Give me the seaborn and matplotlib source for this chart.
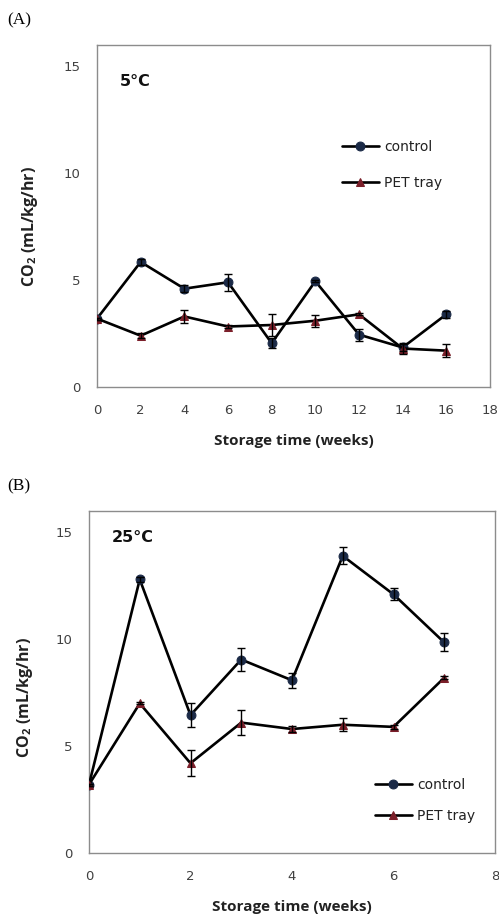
import matplotlib
matplotlib.use("Agg")
import matplotlib.pyplot as plt
import seaborn as sns
import pandas as pd

# ---- data ----
weeks_a = [0, 2, 4, 6, 8, 10, 12, 14, 16]
control_a = [3.2, 5.85, 4.6, 4.9, 2.05, 4.95, 2.45, 1.85, 3.4]
control_a_err = [0.05, 0.12, 0.15, 0.4, 0.23, 0.05, 0.28, 0.15, 0.17]
pet_a = [3.2, 2.4, 3.3, 2.83, 2.9, 3.1, 3.4, 1.8, 1.7]
pet_a_err = [0.05, 0.12, 0.3, 0.08, 0.52, 0.27, 0.05, 0.27, 0.3]

weeks_b = [0, 1, 2, 3, 4, 5, 6, 7]
control_b = [3.2, 12.8, 6.45, 9.05, 8.08, 13.9, 12.1, 9.85]
control_b_err = [0.05, 0.1, 0.55, 0.55, 0.35, 0.4, 0.28, 0.42]
pet_b = [3.2, 7.0, 4.2, 6.1, 5.8, 6.0, 5.9, 8.2]
pet_b_err = [0.05, 0.05, 0.6, 0.57, 0.12, 0.31, 0.1, 0.08]

series_labels = ["control", "PET tray"]
panel_labels = ["(A)", "(B)"]
temp_labels = ["5\u00b0C", "25\u00b0C"]
xlabel = "Storage time (weeks)"
ylabel = r"CO$_{\mathbf{2}}$ (mL/kg/hr)"

sns.set_theme(style="white")
plt.rcParams["font.family"] = ["DejaVu Sans"]
plt.rcParams["mathtext.fontset"] = "custom"
plt.rcParams["mathtext.rm"] = "Open Sans"
plt.rcParams["mathtext.bf"] = "Open Sans:bold"

NAVY = "#1b2a47"
MAROON = "#7b1f2a"
SPINE = "#8c8c8c"
TICKLBL = "#404040"

fig = plt.figure(figsize=(4.99, 9.18), dpi=100)
W, H = 499, 918

def axes_px(l, t, r, b):
    return fig.add_axes([l / W, 1 - b / H, (r - l) / W, (b - t) / H])

axA = axes_px(97, 45, 490, 387)
axB = axes_px(89, 511, 495, 853)

def draw(ax, weeks, ctrl, ctrl_err, pet, pet_err, xmax, xstep):
    df_c = pd.DataFrame({"week": weeks, "co2": ctrl})
    df_p = pd.DataFrame({"week": weeks, "co2": pet})
    sns.lineplot(data=df_c, x="week", y="co2", ax=ax, color="black",
                 linewidth=1.9, marker="o", markersize=6.4,
                 markerfacecolor=NAVY, markeredgecolor=NAVY,
                 label=series_labels[0], zorder=3)
    sns.lineplot(data=df_p, x="week", y="co2", ax=ax, color="black",
                 linewidth=1.9, marker="^", markersize=6.4,
                 markerfacecolor=MAROON, markeredgecolor=MAROON,
                 label=series_labels[1], zorder=3)
    ax.errorbar(weeks, ctrl, yerr=ctrl_err, fmt="none", ecolor="black",
                elinewidth=1.0, capsize=3.2, capthick=1.0, zorder=4)
    ax.errorbar(weeks, pet, yerr=pet_err, fmt="none", ecolor="black",
                elinewidth=1.0, capsize=3.2, capthick=1.0, zorder=4)
    ax.set_xlim(0, xmax)
    ax.set_ylim(0, 16)
    ax.set_xticks(list(range(0, xmax + 1, xstep)))
    ax.set_yticks([0, 5, 10, 15])
    for s in ax.spines.values():
        s.set_visible(True)
        s.set_color(SPINE)
        s.set_linewidth(1.0)
    ax.tick_params(axis="both", which="major", direction="out", length=4,
                   width=1.0, color=SPINE, labelcolor=TICKLBL, labelsize=9.5)
    ax.tick_params(axis="x", pad=8.5)
    ax.tick_params(axis="y", pad=8)
    ax.set_xlabel(xlabel, family="Open Sans", fontweight="bold", fontsize=11,
                  color="#222222")
    ax.set_ylabel(ylabel, family="Open Sans", fontweight="bold", fontsize=11.5,
                  color="#222222")

draw(axA, weeks_a, control_a, control_a_err, pet_a, pet_a_err, 18, 2)
draw(axB, weeks_b, control_b, control_b_err, pet_b, pet_b_err, 8, 2)

axA.xaxis.set_label_coords(0.5, -0.138)
axB.xaxis.set_label_coords(0.5, -0.136)
axA.yaxis.set_label_coords(-0.145, 0.468)
axB.yaxis.set_label_coords(-0.133, 0.456)

legA = axA.legend(loc="center left", bbox_to_anchor=(329 / W, 1 - 165 / H),
                  bbox_transform=fig.transFigure, frameon=False, fontsize=10,
                  handlelength=2.7, handletextpad=0.35, labelspacing=1.6)
legB = axB.legend(loc="center left", bbox_to_anchor=(362 / W, 1 - 800.5 / H),
                  bbox_transform=fig.transFigure, frameon=False, fontsize=10,
                  handlelength=2.7, handletextpad=0.35, labelspacing=1.2)
for leg in (legA, legB):
    for t in leg.get_texts():
        t.set_color("#222222")

fig.text(120 / W, 1 - 82 / H, temp_labels[0], fontsize=11.5, fontweight="bold",
         va="center", ha="left", color="#111111")
fig.text(112 / W, 1 - 537 / H, temp_labels[1], fontsize=11.5, fontweight="bold",
         va="center", ha="left", color="#111111")

fig.text(7 / W, 1 - 20 / H, panel_labels[0], fontsize=12.5,
         family="Liberation Serif", va="center", ha="left", color="black")
fig.text(7 / W, 1 - 486 / H, panel_labels[1], fontsize=12.5,
         family="Liberation Serif", va="center", ha="left", color="black")

fig.savefig("out.png", dpi=100)
